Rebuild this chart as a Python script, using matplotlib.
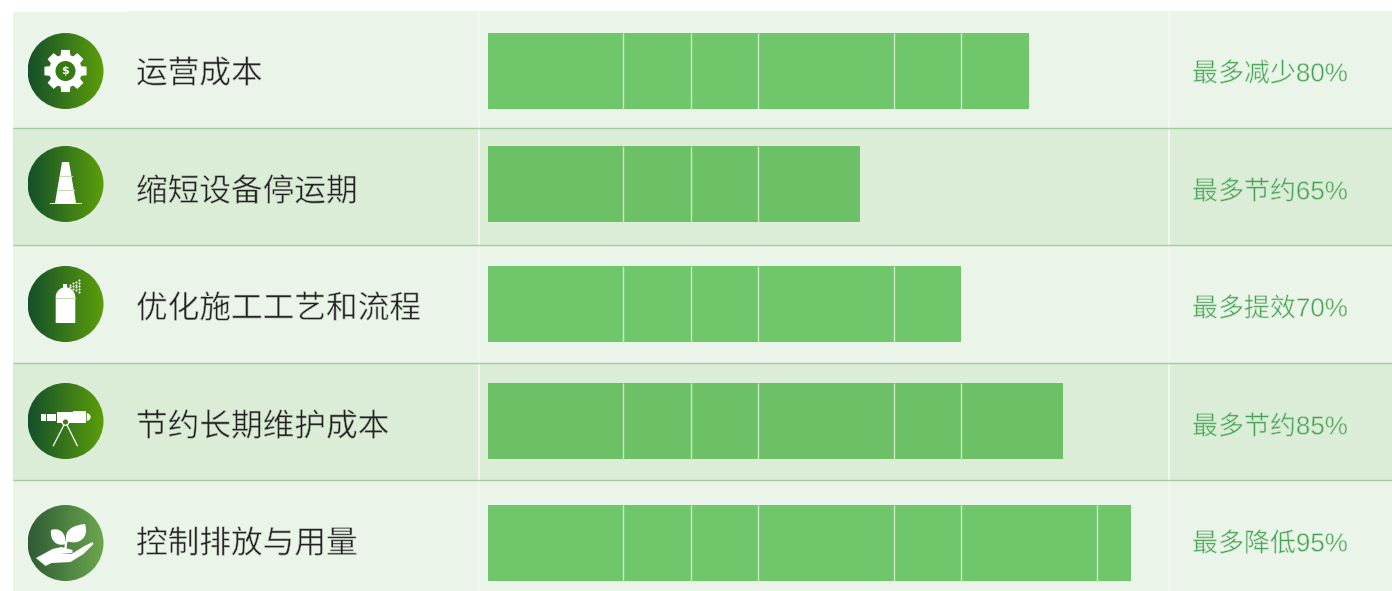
import numpy as np
import matplotlib
matplotlib.use('Agg')
import matplotlib.pyplot as plt
import matplotlib.patheffects as pe
from matplotlib.patches import Circle, Polygon, Rectangle, PathPatch, Wedge
from matplotlib.path import Path
from matplotlib.colors import LinearSegmentedColormap

plt.rcParams['font.family'] = ['Noto Sans CJK SC', 'DejaVu Sans']

categories = ['运营成本', '缩短设备停运期', '优化施工工艺和流程', '节约长期维护成本', '控制排放与用量']
bar_values = [80, 55, 70, 85, 95]
value_labels = ['最多减少80%', '最多节约65%', '最多提效70%', '最多节约85%', '最多降低95%']
segment_edges = [20, 30, 40, 60, 70, 90]

# layout in pixels
W, H = 1392, 591
row_edges = [11, 128, 245, 363, 480, 591]
row_centers = [71, 184, 304, 421, 543]
text_centers = [74, 192, 309, 427, 544]
row_colors = ['#EAF4E8', '#DCEDD7', '#EAF4E8', '#DCEDD7', '#EAF4E8']
bar_colors = ['#70C66B', '#6CC167', '#70C66B', '#6CC167', '#70C66B']
BAR_X0, BAR_X1 = 487.5, 1164.5
ICON_X, ICON_R = 65.5, 38

fig = plt.figure(figsize=(W / 100, H / 100), dpi=100, facecolor='white')
bg = fig.add_axes([0, 0, 1, 1])
bg.set_axis_off()


def reset(ax):
    ax.set_xlim(0, W)
    ax.set_ylim(H, 0)
    ax.set_aspect('auto')


def icon_circle(cy, c0, c1):
    cmap = LinearSegmentedColormap.from_list('g', [c0, c1])
    im = bg.imshow(np.linspace(0, 1, 128).reshape(1, -1), cmap=cmap, aspect='auto', zorder=3,
                   extent=(ICON_X - ICON_R, ICON_X + ICON_R, cy + ICON_R, cy - ICON_R))
    clip = Circle((ICON_X, cy), ICON_R, transform=bg.transData)
    im.set_clip_path(clip)


def gear(cx, cy):
    pts = []
    for i in range(8):
        a = i * np.pi / 4
        for da, r in [(-0.3, 16.5), (-0.2, 21.5), (0.2, 21.5), (0.3, 16.5)]:
            pts.append((cx + r * np.cos(a + da), cy + r * np.sin(a + da)))
    bg.add_patch(Polygon(pts, fc='white', ec='none', zorder=4))
    bg.add_patch(Circle((cx, cy), 10, fc='#367A14', ec='none', zorder=5))
    bg.text(cx, cy, '$', color='white', fontsize=8, fontweight='bold', ha='center', va='center',
            family='DejaVu Sans', zorder=6)


def cone(cx, cy):
    bg.add_patch(Polygon([(cx - 3.5, cy - 22), (cx + 3.5, cy - 22), (cx + 10.5, cy + 19), (cx - 10.5, cy + 19)],
                         fc='white', ec='none', zorder=4))
    bg.add_patch(Rectangle((cx - 16, cy + 19), 32, 1.2, fc='white', ec='none', zorder=4))
    bg.plot([cx - 6, cx + 6], [cy - 8, cy - 8], color='#C3D8B5', lw=0.8, zorder=5)
    bg.plot([cx - 8, cx + 8], [cy + 6, cy + 6], color='#C3D8B5', lw=0.8, zorder=5)


def spray(cx, cy):
    verts = [(cx - 9.8, cy + 19), (cx - 9.8, cy - 7), (cx - 9.8, cy - 14), (cx - 3, cy - 17), (cx, cy - 17),
             (cx + 3, cy - 17), (cx + 9.8, cy - 14), (cx + 9.8, cy - 7), (cx + 9.8, cy + 19), (cx - 9.8, cy + 19)]
    codes = [Path.MOVETO, Path.LINETO, Path.CURVE4, Path.CURVE4, Path.CURVE4,
             Path.CURVE4, Path.CURVE4, Path.CURVE4, Path.LINETO, Path.CLOSEPOLY]
    bg.add_patch(PathPatch(Path(verts, codes), fc='white', ec='none', zorder=4))
    bg.add_patch(Rectangle((cx - 2.5, cy - 20.5), 4, 4.5, fc='white', ec='none', zorder=4))
    bg.plot([cx - 9.8, cx + 9.8], [cy - 6.5, cy - 6.5], color='#C3D8B5', lw=0.8, zorder=5)
    for k, n in enumerate([2, 3, 4, 5]):
        x = cx + 4 + k * 3
        ys = cy - 18 + np.linspace(-1, 1, n) * (1.2 + k * 1.6)
        bg.scatter([x] * n, ys, s=2.2, color='white', lw=0, zorder=5)


def scope(cx, cy):
    bg.add_patch(Rectangle((cx - 24.2, cy - 7.3), 15, 7, fc='white', ec='none', zorder=4))
    bg.add_patch(Rectangle((cx - 8.8, cy - 8.7), 16, 10.4, fc='white', ec='none', zorder=4))
    bg.add_patch(Rectangle((cx + 7.8, cy - 10.3), 13, 12.6, fc='white', ec='none', zorder=4))
    bg.add_patch(Wedge((cx + 21.3, cy - 4), 3.8, -90, 90, fc='white', ec='none', zorder=4))
    bg.plot([cx - 19.5, cx - 19.5], [cy - 7.3, cy - 0.3], color='#2F6E22', lw=0.7, zorder=5)
    bg.plot([cx - 12.2, cx, cx + 11.8], [cy + 24.7, cy + 1, cy + 24.7], color='white', lw=0.9, zorder=5)
    bg.add_patch(Circle((cx, cy + 1), 3.3, fc='#3B7B1C', ec='white', lw=1.0, zorder=6))


def plant(cx, cy):
    hand = [(cx - 29.5, cy + 15), (cx - 13, cy + 6), (cx - 4, cy + 4), (cx + 7, cy + 7), (cx + 7, cy + 10),
            (cx - 5, cy + 11), (cx + 6, cy + 11), (cx + 19, cy + 3), (cx + 27, cy - 1), (cx + 28, cy + 1),
            (cx + 18, cy + 11), (cx + 5, cy + 19), (cx - 14, cy + 20), (cx - 20, cy + 23)]
    bg.add_patch(Polygon(hand, fc='white', ec='none', zorder=4))
    left = [(cx - 14.5, cy - 13), (cx - 6, cy - 16), (cx + 1, cy - 10), (cx, cy + 1), (cx - 8, cy + 4),
            (cx - 16, cy - 2), (cx - 14.5, cy - 13)]
    right = [(cx + 19.5, cy - 19), (cx + 24, cy - 6), (cx + 14, cy + 3), (cx + 1, cy - 2), (cx - 2, cy - 13),
             (cx + 8, cy - 18), (cx + 19.5, cy - 19)]
    codes = [Path.MOVETO] + [Path.CURVE4] * 6
    bg.add_patch(PathPatch(Path(left, codes), fc='white', ec='none', zorder=4))
    bg.add_patch(PathPatch(Path(right, codes), fc='white', ec='none', zorder=4))
    bg.plot([cx, cx + 0.5, cx + 2], [cy + 5, cy, cy - 3], color='white', lw=1.6, zorder=4)


# row backgrounds
for i in range(5):
    bg.add_patch(Rectangle((13, row_edges[i]), W - 13, row_edges[i + 1] - row_edges[i],
                           fc=row_colors[i], ec='none', zorder=1))
bg.add_patch(Rectangle((0, 0), 128, 12.3, fc='white', ec='none', zorder=1.1))
for y in row_edges[1:-1]:
    bg.plot([13, W], [y, y], color='#A3CB9F', lw=1.0, zorder=2, solid_capstyle='butt')
for x in [479, 1168.5]:
    bg.plot([x, x], [11, H], color='#F3F8F1', lw=1.4, zorder=1.5, solid_capstyle='butt')

# icons
icon_colors = [('#14502A', '#5C9E0A')] * 4 + [('#2F5B35', '#6CA84E')]
icon_funcs = [gear, cone, spray, scope, plant]
for cy, (c0, c1), fn in zip(row_centers, icon_colors, icon_funcs):
    icon_circle(cy, c0, c1)
    fn(ICON_X, cy)

# texts, thinned a bit because no light weight of the font is installed
for cy, name, lab, rc in zip(text_centers, categories, value_labels, row_colors):
    thin = [pe.Normal(), pe.Stroke(linewidth=0.45, foreground=rc)]
    bg.text(136, cy, name, fontsize=22.8, color='#222222', ha='left', va='center', zorder=4, path_effects=thin)
    bg.text(1192, cy, lab, fontsize=18.7, color='#43A352', ha='left', va='center', zorder=4,
            family=['Liberation Sans', 'Noto Sans CJK SC'], path_effects=thin)
reset(bg)

# bars
ax = fig.add_axes([BAR_X0 / W, 0, (BAR_X1 - BAR_X0) / W, 1], facecolor='none')
ax.barh(row_centers, bar_values, height=76, color=bar_colors, edgecolor='none', zorder=2)
for cy, v in zip(row_centers, bar_values):
    edges = [e for e in segment_edges if e < v]
    ax.vlines(edges, cy - 38, cy + 38, color='#CFE6CB', lw=1.0, zorder=3)
ax.set_xlim(0, 100)
ax.set_ylim(H, 0)
ax.set_axis_off()

fig.savefig('out.png', dpi=100, facecolor='white')
